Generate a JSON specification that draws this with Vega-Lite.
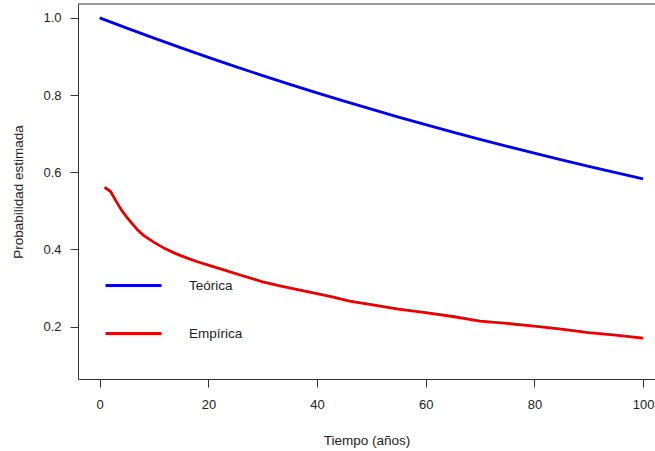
{
  "$schema": "https://vega.github.io/schema/vega-lite/v6.json",
  "autosize": {"type": "none"},
  "padding": {"left": 78, "top": 4, "right": 0, "bottom": 72},
  "width": 577,
  "height": 375,
  "background": "#ffffff",
  "config": {
    "view": {"stroke": null},
    "font": "Liberation Sans",
    "axis": {
      "labelFont": "Liberation Sans",
      "titleFont": "Liberation Sans",
      "labelFontSize": 13,
      "titleFontSize": 13.5,
      "titleFontWeight": "normal",
      "labelColor": "#222222",
      "titleColor": "#222222",
      "domainColor": "#333333",
      "tickColor": "#333333",
      "domainWidth": 1,
      "tickWidth": 1,
      "tickSize": 8,
      "grid": false
    },
    "legend": {
      "labelFont": "Liberation Sans",
      "labelFontSize": 13.5,
      "labelColor": "#222222"
    }
  },
  "data": {
    "values": [
      {"t": 0, "p": 1.0, "serie": "Teórica"},
      {"t": 5, "p": 0.9734, "serie": "Teórica"},
      {"t": 10, "p": 0.9474, "serie": "Teórica"},
      {"t": 15, "p": 0.9222, "serie": "Teórica"},
      {"t": 20, "p": 0.8976, "serie": "Teórica"},
      {"t": 25, "p": 0.8737, "serie": "Teórica"},
      {"t": 30, "p": 0.8504, "serie": "Teórica"},
      {"t": 35, "p": 0.8278, "serie": "Teórica"},
      {"t": 40, "p": 0.8057, "serie": "Teórica"},
      {"t": 45, "p": 0.7843, "serie": "Teórica"},
      {"t": 50, "p": 0.7634, "serie": "Teórica"},
      {"t": 55, "p": 0.743, "serie": "Teórica"},
      {"t": 60, "p": 0.7233, "serie": "Teórica"},
      {"t": 65, "p": 0.704, "serie": "Teórica"},
      {"t": 70, "p": 0.6853, "serie": "Teórica"},
      {"t": 75, "p": 0.667, "serie": "Teórica"},
      {"t": 80, "p": 0.6492, "serie": "Teórica"},
      {"t": 85, "p": 0.632, "serie": "Teórica"},
      {"t": 90, "p": 0.6151, "serie": "Teórica"},
      {"t": 95, "p": 0.5987, "serie": "Teórica"},
      {"t": 100, "p": 0.5827, "serie": "Teórica"},
      {"t": 0.9, "p": 0.561, "serie": "Empírica"},
      {"t": 2, "p": 0.55, "serie": "Empírica"},
      {"t": 3, "p": 0.525, "serie": "Empírica"},
      {"t": 4, "p": 0.502, "serie": "Empírica"},
      {"t": 5, "p": 0.483, "serie": "Empírica"},
      {"t": 6, "p": 0.466, "serie": "Empírica"},
      {"t": 7, "p": 0.45, "serie": "Empírica"},
      {"t": 8, "p": 0.437, "serie": "Empírica"},
      {"t": 10, "p": 0.418, "serie": "Empírica"},
      {"t": 12, "p": 0.402, "serie": "Empírica"},
      {"t": 14, "p": 0.389, "serie": "Empírica"},
      {"t": 16, "p": 0.378, "serie": "Empírica"},
      {"t": 18, "p": 0.368, "serie": "Empírica"},
      {"t": 20, "p": 0.359, "serie": "Empírica"},
      {"t": 23, "p": 0.346, "serie": "Empírica"},
      {"t": 26, "p": 0.333, "serie": "Empírica"},
      {"t": 30, "p": 0.316, "serie": "Empírica"},
      {"t": 33, "p": 0.306, "serie": "Empírica"},
      {"t": 36, "p": 0.297, "serie": "Empírica"},
      {"t": 40, "p": 0.285, "serie": "Empírica"},
      {"t": 43, "p": 0.276, "serie": "Empírica"},
      {"t": 46, "p": 0.266, "serie": "Empírica"},
      {"t": 50, "p": 0.257, "serie": "Empírica"},
      {"t": 55, "p": 0.245, "serie": "Empírica"},
      {"t": 60, "p": 0.236, "serie": "Empírica"},
      {"t": 65, "p": 0.226, "serie": "Empírica"},
      {"t": 70, "p": 0.214, "serie": "Empírica"},
      {"t": 75, "p": 0.208, "serie": "Empírica"},
      {"t": 80, "p": 0.201, "serie": "Empírica"},
      {"t": 85, "p": 0.193, "serie": "Empírica"},
      {"t": 90, "p": 0.184, "serie": "Empírica"},
      {"t": 95, "p": 0.178, "serie": "Empírica"},
      {"t": 100, "p": 0.17, "serie": "Empírica"}
    ]
  },
  "layer": [
    {
      "mark": {"type": "line", "strokeWidth": 2.8, "interpolate": "linear"},
      "encoding": {
        "x": {
          "field": "t",
          "type": "quantitative",
          "scale": {"domain": [-4, 102.2], "nice": false, "zero": false},
          "axis": {
            "orient": "bottom",
            "values": [0, 20, 40, 60, 80, 100],
            "title": "Tiempo (años)",
            "labelPadding": 11,
            "titlePadding": 22
          }
        },
        "y": {
          "field": "p",
          "type": "quantitative",
          "scale": {"domain": [0.064, 1.036], "nice": false, "zero": false},
          "axis": {
            "values": [0.2, 0.4, 0.6, 0.8, 1.0],
            "format": ".1f",
            "title": "Probabilidad estimada",
            "labelPadding": 9,
            "titlePadding": 17
          }
        },
        "color": {
          "field": "serie",
          "type": "nominal",
          "scale": {"domain": ["Teórica", "Empírica"], "range": ["#0000e6", "#e60000"]},
          "legend": {
            "title": null,
            "orient": "none",
            "legendX": 26,
            "legendY": 252,
            "padding": 0,
            "symbolType": "stroke",
            "symbolSize": 3136,
            "symbolStrokeWidth": 3,
            "labelOffset": 26,
            "rowPadding": 12
          }
        },
        "detail": {"field": "serie"}
      }
    },
    {
      "mark": {"type": "rule", "color": "#333333", "strokeWidth": 1},
      "data": {"values": [{"top": 1.036}]},
      "encoding": {
        "y": {"field": "top", "type": "quantitative"}
      }
    }
  ]
}
